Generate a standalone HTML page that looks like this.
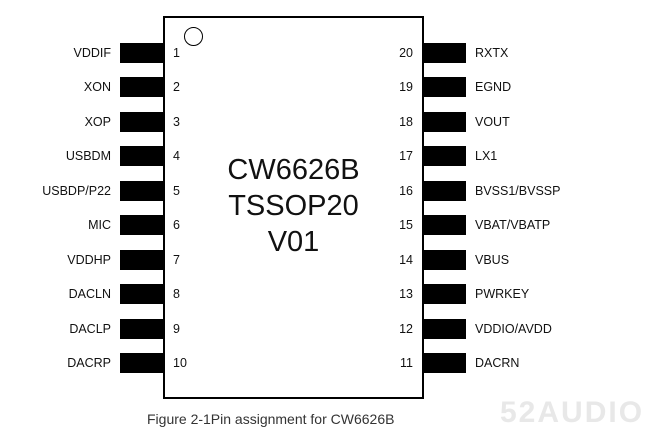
<!DOCTYPE html>
<html><head><style>
body{margin:0;width:646px;height:448px;background:#fff;position:relative;overflow:hidden;font-family:"Liberation Sans",Arial,sans-serif;color:#111}
.b{position:absolute}
.p{position:absolute;background:#000;height:20px}
.l{position:absolute;font-size:12.5px;line-height:20px}
</style></head><body>
<div class="b" style="left:163px;top:16px;border:2px solid #000;box-sizing:border-box;width:261px;height:383px"></div>
<div class="b" style="left:184px;top:27px;width:17px;height:17px;border:1.5px solid #000;border-radius:50%"></div>
<div class="b" style="left:164px;top:152px;width:259px;text-align:center;font-size:29px;line-height:36px;color:#111">CW6626B<br>TSSOP20<br>V01</div>
<div id="pins"></div>
<div class="b" style="left:147px;top:411px;font-size:14px;color:#333;white-space:nowrap">Figure 2-1Pin assignment for CW6626B</div>
<div class="b" style="left:500px;top:396px;font-size:30px;font-weight:bold;color:#e8e8e8;letter-spacing:2px">52AUDIO</div>
<script>
var L=["VDDIF","XON","XOP","USBDM","USBDP/P22","MIC","VDDHP","DACLN","DACLP","DACRP"];
var R=["RXTX","EGND","VOUT","LX1","BVSS1/BVSSP","VBAT/VBATP","VBUS","PWRKEY","VDDIO/AVDD","DACRN"];
var h="";
for(var i=0;i<10;i++){var t=43+i*34.44;
h+='<div class="p" style="left:120px;width:45px;top:'+t+'px"></div>';
h+='<div class="l" style="right:535px;top:'+t+'px">'+L[i]+'</div>';
h+='<div class="l" style="left:173px;top:'+t+'px">'+(i+1)+'</div>';
h+='<div class="p" style="left:422px;width:44px;top:'+t+'px"></div>';
h+='<div class="l" style="left:475px;top:'+t+'px">'+R[i]+'</div>';
h+='<div class="l" style="right:233px;top:'+t+'px">'+(20-i)+'</div>';}
document.getElementById("pins").innerHTML=h;
</script>
</body></html>
